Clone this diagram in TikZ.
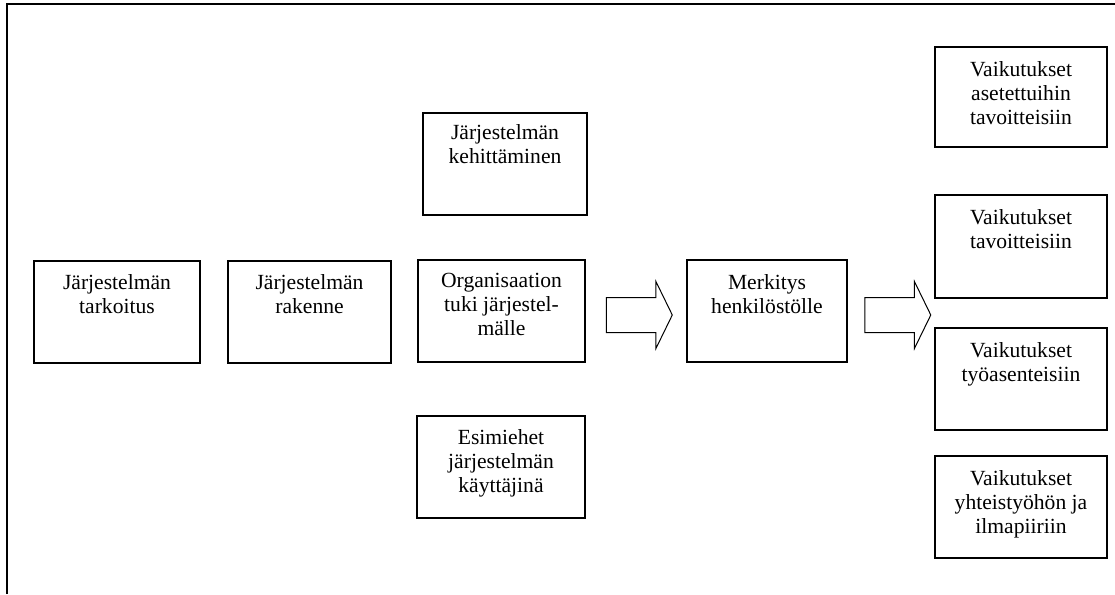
\documentclass[tikz,border=0pt]{standalone}
\usepackage{fontspec}
\setmainfont{Liberation Serif}
\usetikzlibrary{positioning,shapes.arrows}

\tikzset{
  laatikko/.style={draw,line width=2pt,inner sep=0pt,minimum height=102pt},
  teksti/.style={align=center,inner sep=0pt,font=\fontsize{21.6}{24}\selectfont},
  nuoli/.style={single arrow,draw,line width=1pt,inner xsep=0pt,inner ysep=17pt,
    text height=0pt,text depth=0pt,minimum height=66pt,
    single arrow head extend=16pt,single arrow tip angle=128}
}

\begin{document}
\begin{tikzpicture}[x=1pt,y=-1pt]
\useasboundingbox (0,0) rectangle (1115,594);

% kehys
\draw[line width=2.5pt] (7,594) -- (7,4) -- (1115,4);

% vasen puoli
\node[laatikko,minimum width=166pt] (tarkoitus) at (117,311.5) {};
\node[laatikko,minimum width=163pt] (rakenne) at (309.5,311.5) {};
\node[laatikko,minimum width=167pt] (tuki) at (501.5,311) {};
\node[laatikko,minimum width=164pt] (kehitys) at (505,163.5) {};
\node[laatikko,minimum width=168pt] (esimiehet) at (501,466.5) {};
\node[laatikko,minimum width=160pt] (merkitys) at (767,311) {};

\node[teksti,below=15pt of tarkoitus.north] (tarkoitusT) {Järjestelmän\\tarkoitus};
\node[teksti,below=15pt of rakenne.north] (rakenneT) {Järjestelmän\\rakenne};
\node[teksti,below=14pt of tuki.north] (tukiT) {Organisaation\\tuki järjestel-\\mälle};
\node[teksti,below=13pt of kehitys.north] (kehitysT) {Järjestelmän\\kehittäminen};
\node[teksti,below=15pt of esimiehet.north] (esimiehetT) {Esimiehet\\järjestelmän\\käyttäjinä};
\node[teksti,below=15pt of merkitys.north] (merkitysT) {Merkitys\\henkilöstölle};

% oikea puoli
\node[laatikko,minimum width=172pt,minimum height=100pt] (tavoitteet1) at (1021,97) {};
\node[laatikko,minimum width=172pt,minimum height=103pt] (tavoitteet2) at (1021,246.5) {};
\node[laatikko,minimum width=172pt] (asenteet) at (1021,379) {};
\node[laatikko,minimum width=172pt] (ilmapiiri) at (1021,507) {};

\node[teksti,below=15pt of tavoitteet1.north] (tavoitteet1T) {Vaikutukset\\asetettuihin\\tavoitteisiin};
\node[teksti,below=15pt of tavoitteet2.north] (tavoitteet2T) {Vaikutukset\\tavoitteisiin};
\node[teksti,below=15pt of asenteet.north] (asenteetT) {Vaikutukset\\työasenteisiin};
\node[teksti,below=15pt of ilmapiiri.north] (ilmapiiriT) {Vaikutukset\\yhteistyöhön ja\\ilmapiiriin};

% nuolet
\node[nuoli] (nuoli1) at (635,315) {};
\node[nuoli] (nuoli2) at (893.5,315) {};

\end{tikzpicture}
\end{document}
